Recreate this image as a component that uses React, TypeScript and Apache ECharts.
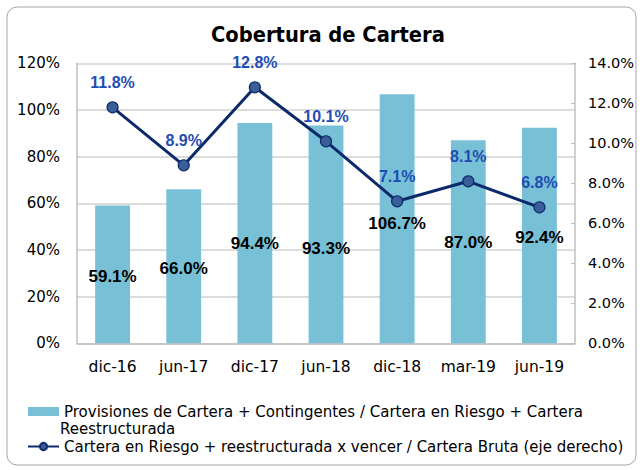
import React, { useEffect, useRef } from "react";
import * as echarts from "echarts";

const categories = ["dic-16", "jun-17", "dic-17", "jun-18", "dic-18", "mar-19", "jun-19"];
const coverage = [59.1, 66.0, 94.4, 93.3, 106.7, 87.0, 92.4];
const riskRatio = [11.8, 8.9, 12.8, 10.1, 7.1, 8.1, 6.8];
const barName = "Provisiones de Cartera + Contingentes / Cartera en Riesgo + Cartera Reestructurada";
const lineName = "Cartera en Riesgo + reestructurada x vencer / Cartera Bruta (eje derecho)";
const leftTicks = { min: 0, max: 120, interval: 20 };
const rightTicks = { min: 0, max: 14, interval: 2 };

// label vertical nudges (style only)
const barLabelNudge = [2, 2, 10, 14, 5, 1, 2];

const FONT = "DejaVu Sans, sans-serif";
const TITLE_FONT = "DejaVu Sans Condensed, DejaVu Sans, sans-serif";

export default function App() {
  const ref = useRef<HTMLDivElement>(null);
  useEffect(() => {
    if (!ref.current) return;
    const chart = echarts.init(ref.current, null, { renderer: "svg" });
    const splitAt = barName.lastIndexOf(" ");
    chart.setOption({
      animation: false,
      backgroundColor: "#ffffff",
      title: {
        text: "Cobertura de Cartera",
        left: 206,
        top: 18,
        textStyle: { fontFamily: TITLE_FONT, fontWeight: "bold", fontSize: 21.7, color: "#000" },
      },
      grid: { left: 77, right: 67, top: 63.3, bottom: 126.7 },
      legend: {
        orient: "vertical",
        left: 22,
        top: 399,
        padding: 5,
        itemGap: 20,
        itemWidth: 31,
        itemHeight: 9,
        textStyle: { fontFamily: FONT, fontSize: 15, color: "#000" },
        formatter: (n: string) => (n === barName ? barName.slice(0, splitAt) : n),
        data: [
          { name: barName, icon: "rect" },
          { name: lineName },
        ],
      },
      graphic: [
        {
          type: "rect",
          shape: { x: 7, y: 7, width: 629, height: 458, r: 10 },
          style: { fill: "none", stroke: "#a6a6a6", lineWidth: 1 },
          silent: true,
        },
        {
          type: "text",
          left: 60,
          top: 421.5,
          style: {
            text: barName.slice(splitAt + 1),
            fontFamily: FONT,
            fontSize: 15,
            fill: "#000",
          },
        },
      ],
      xAxis: {
        type: "category",
        data: categories,
        axisLine: { lineStyle: { color: "#bfbfbf", width: 1.5 } },
        axisTick: { show: false },
        axisLabel: { fontFamily: FONT, fontSize: 15.5, color: "#000", margin: 16, interval: 0 },
      },
      yAxis: [
        {
          type: "value",
          ...leftTicks,
          axisLine: { show: true, lineStyle: { color: "#bfbfbf", width: 1.5 } },
          axisTick: { show: false },
          splitLine: { lineStyle: { color: "#d0d0d0", width: 1.5 } },
          axisLabel: { fontFamily: FONT, fontSize: 15, color: "#000", margin: 17, formatter: (v: number) => v + "%" },
        },
        {
          type: "value",
          ...rightTicks,
          position: "right",
          axisLine: { show: true, lineStyle: { color: "#bfbfbf", width: 1.5 } },
          axisTick: { show: true, inside: true, length: 4, lineStyle: { color: "#bfbfbf" } },
          splitLine: { show: false },
          axisLabel: { fontFamily: FONT, fontSize: 14.5, color: "#000", margin: 13, formatter: (v: number) => v.toFixed(1) + "%" },
        },
      ],
      series: [
        {
          name: barName,
          type: "bar",
          barWidth: "49%",
          itemStyle: { color: "#78c0d5" },
          data: coverage.map((v, i) => ({
            value: v,
            label: { offset: [0, barLabelNudge[i]] },
          })),
          label: {
            show: true,
            position: "inside",
            fontFamily: "Liberation Sans, Arial, sans-serif",
            fontWeight: "bold",
            fontSize: 17,
            color: "#000",
            formatter: (p: any) => p.value.toFixed(1) + "%",
          },
        },
        {
          name: lineName,
          type: "line",
          yAxisIndex: 1,
          data: riskRatio,
          symbol: "circle",
          symbolSize: 11,
          lineStyle: { color: "#0c2a6b", width: 3 },
          itemStyle: { color: "#3a5f98", borderColor: "#0c2a6b", borderWidth: 1.2 },
          label: {
            show: true,
            position: "top",
            distance: 11,
            fontFamily: "Liberation Sans, Arial, sans-serif",
            fontWeight: "bold",
            fontSize: 16,
            color: "#1f4db3",
            formatter: (p: any) => p.value.toFixed(1) + "%",
          },
        },
      ],
    });
    return () => chart.dispose();
  }, []);
  return (
    <div
      ref={ref}
      style={{ position: "fixed", left: 0, top: 0, width: 642, height: 470 }}
    />
  );
}
